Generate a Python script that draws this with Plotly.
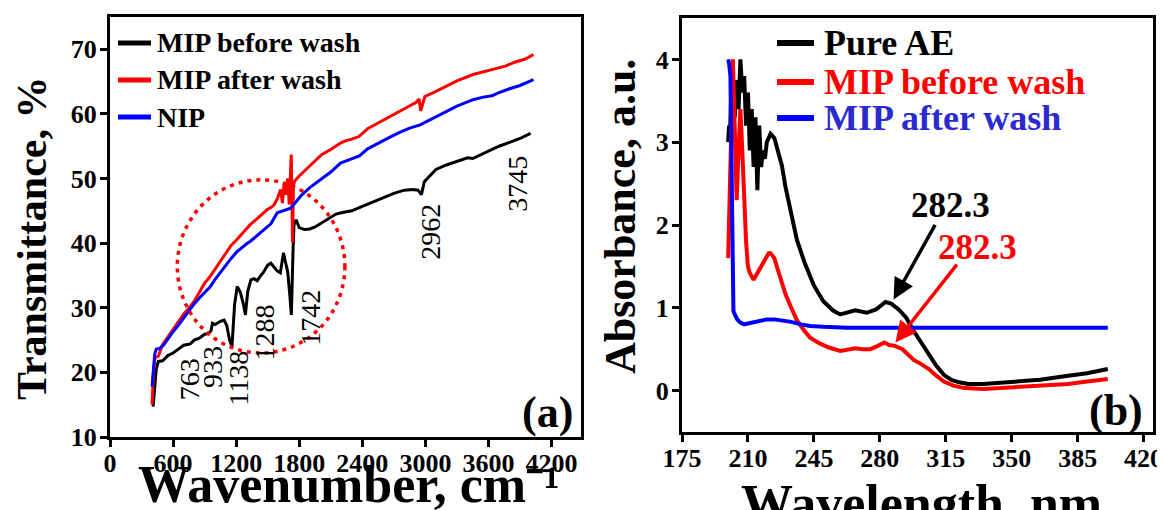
import plotly.graph_objects as go

# ---------------- data: panel (a) FTIR ----------------
wn_before = [410, 420, 440, 460, 500, 550, 600, 650, 700, 763, 800, 850, 900, 933, 960, 975,
             1000, 1050, 1085, 1110, 1138, 1160, 1185, 1210, 1240, 1270, 1288, 1310, 1340, 1370,
             1400, 1430, 1460, 1500, 1530, 1560, 1590, 1620, 1650, 1670, 1690, 1710, 1725, 1742,
             1750, 1770, 1800, 1850, 1900, 1950, 2000, 2050, 2100, 2150, 2200, 2300, 2400, 2500,
             2600, 2700, 2800, 2880, 2930, 2962, 2990, 3050, 3100, 3200, 3300, 3400, 3450, 3500,
             3600, 3700, 3800, 3900, 4000]
t_before = [14.7, 17.0, 20.5, 21.7, 21.8, 22.6, 23.0, 23.6, 24.2, 24.4, 25.0, 25.3, 25.9, 26.0, 26.4, 27.6,
            27.4, 27.9, 28.1, 27.3, 25.0, 24.0, 30.5, 33.3, 32.4, 30.5, 28.9, 32.5, 34.3, 34.5,
            34.2, 34.9, 35.5, 36.6, 36.9, 36.3, 35.7, 35.4, 38.5, 37.0, 35.6, 32.0, 28.9, 39.5,
            42.8, 43.6, 42.4, 42.1, 42.2, 42.5, 43.0, 43.4, 44.0, 44.5, 44.7, 45.0, 45.7, 46.4,
            47.1, 47.7, 48.2, 48.3, 48.2, 47.5, 49.5, 50.6, 51.4, 52.1, 52.7, 53.2, 53.1, 53.5,
            54.2, 55.0, 55.6, 56.2, 57.0]

wn_after = [400, 405, 415, 430, 460, 500, 550, 600, 650, 700, 764, 800, 850, 900, 955, 1000, 1050,
            1100, 1150, 1209, 1250, 1300, 1336, 1400, 1450, 1496, 1530, 1559, 1590, 1623, 1640,
            1655, 1670, 1690, 1705, 1715, 1724, 1730, 1736, 1745, 1757, 1800, 1850, 1900, 1950,
            2012, 2100, 2192, 2250, 2300, 2367, 2450, 2550, 2650, 2750, 2850, 2913, 2940, 2955,
            2970, 2995, 3100, 3200, 3300, 3453, 3550, 3650, 3760, 3850, 3950, 4028]
t_after = [15.0, 17.0, 20.5, 22.3, 22.5, 24.3, 25.5, 26.8, 28.0, 29.0, 30.2, 31.0, 32.4, 33.8, 34.9, 35.9, 37.2,
           38.4, 39.6, 40.6, 41.3, 42.2, 42.9, 43.8, 44.6, 45.2, 45.5, 45.9, 46.8, 48.3, 46.2,
           49.2, 47.5, 50.0, 46.0, 49.5, 53.7, 47.0, 40.1, 49.0, 49.6, 50.4, 51.2, 52.0, 52.8,
           53.7, 54.5, 55.5, 55.9, 56.1, 56.5, 57.7, 58.6, 59.5, 60.4, 61.2, 61.8, 62.3, 60.5,
           61.3, 62.7, 63.5, 64.3, 65.1, 66.1, 66.5, 67.0, 67.4, 68.0, 68.5, 69.2]

wn_nip = [400, 410, 425, 440, 470, 509, 550, 600, 650, 700, 764, 800, 850, 900, 955, 1000, 1050,
          1100, 1150, 1209, 1250, 1300, 1336, 1400, 1450, 1496, 1530, 1591, 1650, 1718, 1760, 1814,
          1900, 2005, 2100, 2192, 2280, 2372, 2450, 2550, 2650, 2750, 2850, 2950, 3020, 3150, 3300,
          3453, 3550, 3633, 3700, 3800, 3900, 4028]
t_nip = [17.8, 20.0, 22.8, 23.6, 23.7, 24.2, 25.2, 26.3, 27.3, 28.4, 30.0, 30.6, 31.5, 32.4, 33.3, 34.4, 35.5,
         36.5, 37.6, 38.7, 39.3, 39.9, 40.3, 41.2, 41.9, 42.6, 43.0, 44.7, 45.0, 45.4, 46.2, 47.3,
         48.6, 49.8, 51.0, 52.4, 52.9, 53.5, 54.6, 55.5, 56.3, 57.1, 57.8, 58.3, 58.9, 60.0, 61.2,
         62.2, 62.6, 62.8, 63.3, 63.9, 64.4, 65.3]

names_a = ["MIP before wash", "MIP after wash", "NIP"]
peak_labels = ["763", "933", "1138", "1288", "1742", "2962", "3745"]

# ---------------- data: panel (b) UV-Vis ----------------
wl_ae = [199.5, 200, 200.5, 201, 202, 203, 204, 205, 206, 207, 208, 209, 210, 211, 212, 213, 214,
         215, 216, 217, 218, 219, 220, 222, 224, 226, 228, 230, 233, 236, 240, 245, 250, 255, 259,
         263, 267, 273, 278, 283, 286, 290, 294, 298, 302, 306, 310, 314, 318, 322, 327, 335, 350,
         365, 380, 390, 401]
a_ae = [3.0, 3.2, 3.1, 3.5, 3.7, 3.3, 3.75, 3.4, 4.0, 3.6, 3.8, 3.2, 3.6, 2.9, 3.4, 2.7, 3.3,
        2.42, 3.2, 2.7, 2.9, 2.8, 3.0, 3.1, 3.05, 2.9, 2.72, 2.45, 2.12, 1.82, 1.55, 1.27, 1.08, 0.97, 0.92,
        0.94, 0.97, 0.94, 0.98, 1.07, 1.05, 0.98, 0.88, 0.72, 0.58, 0.45, 0.30, 0.19, 0.13, 0.10, 0.08, 0.08, 0.10,
        0.13, 0.18, 0.21, 0.26]

wl_mb = [199.5, 200, 201, 202, 203, 204, 205, 206, 207, 208, 209, 210, 211, 213, 215, 217, 219, 221,
         222, 224, 226, 228, 230, 233, 236, 240, 243, 248, 253, 259, 263, 267, 271, 275, 279, 282.4,
         285, 288, 292, 295, 298, 302, 306, 310, 314, 319, 325, 335, 350, 365, 380, 390, 401]
a_mb = [1.6, 2.3, 3.0, 4.0, 3.2, 2.3, 2.9, 3.4, 2.9, 2.3, 1.8, 1.5, 1.42, 1.34, 1.42, 1.52, 1.6, 1.66,
        1.66, 1.6, 1.45, 1.3, 1.16, 1.0, 0.85, 0.72, 0.64, 0.57, 0.52, 0.48, 0.50, 0.51, 0.50, 0.50, 0.54, 0.58,
        0.55, 0.54, 0.50, 0.43, 0.37, 0.32, 0.26, 0.18, 0.11, 0.06, 0.03, 0.02, 0.04, 0.06, 0.08, 0.11, 0.14]

wl_ma = [199.5, 200, 200.7, 201.2, 201.8, 202.3, 203, 204.3, 206, 208, 210, 212, 216, 220, 224, 228,
         233, 238, 243, 250, 263, 280, 300, 330, 360, 380, 401]
a_ma = [4.0, 3.95, 3.8, 2.5, 1.3, 0.96, 0.92, 0.86, 0.82, 0.80, 0.81, 0.82, 0.84, 0.86, 0.86, 0.85,
        0.83, 0.80, 0.78, 0.77, 0.76, 0.76, 0.76, 0.76, 0.76, 0.76, 0.76]

names_b = ["Pure AE", "MIP before wash", "MIP after wash"]
peak_b = "282.3"

# ---------------- figure ----------------
OFF = 8                      # page body margin
W, H = 1157, 502             # figure size so it fits the 1165x510 window
FONT = "Liberation Serif"
BLACK, RED, BLUE = "#000000", "#ff0000", "#0000ff"


def px(x):
    return (x - OFF) / W


def py(y):
    return 1 - (y - OFF) / H


fig = go.Figure()
colors_a = [BLACK, RED, BLUE]
for xs, ys, nm, c in zip([wn_before, wn_after, wn_nip], [t_before, t_after, t_nip], names_a, colors_a):
    fig.add_trace(go.Scatter(x=xs, y=ys, mode="lines", name=nm, line=dict(color=c, width=3),
                             xaxis="x", yaxis="y", showlegend=False))

colors_b = [BLACK, RED, BLUE]
for xs, ys, nm, c in zip([wl_ae, wl_mb, wl_ma], [a_ae, a_mb, a_ma], names_b, colors_b):
    fig.add_trace(go.Scatter(x=xs, y=ys, mode="lines", name=nm, line=dict(color=c, width=4),
                             xaxis="x2", yaxis="y2", showlegend=False))

tickfont = dict(family=FONT, size=26, color="black", weight="bold")
axis_common = dict(showline=True, linewidth=3, linecolor="black", mirror=True, ticks="outside",
                   ticklen=7, tickwidth=3, tickcolor="black", showgrid=False, zeroline=False,
                   tickfont=tickfont, automargin=False)

fig.update_layout(
    width=W, height=H, template="none",
    margin=dict(l=0, r=0, t=0, b=0),
    paper_bgcolor="white", plot_bgcolor="white",
    xaxis=dict(domain=[px(110), px(581)], range=[0, 4480], tickvals=list(range(0, 4201, 600)),
               anchor="y", ticklabelstandoff=-6, **axis_common),
    yaxis=dict(domain=[py(437), py(17)], range=[10, 75], tickvals=list(range(10, 71, 10)),
               anchor="x", ticklabelstandoff=-2, **axis_common),
    xaxis2=dict(domain=[px(682), px(1153)], range=[175, 425], tickvals=list(range(175, 421, 35)),
                anchor="y2", ticklabelstandoff=-6, **axis_common),
    yaxis2=dict(domain=[py(432), py(18)], range=[-0.5, 4.5], tickvals=[0, 1, 2, 3, 4],
                anchor="x2", ticklabelstandoff=-2, **axis_common),
    showlegend=False,
)

ann = []
shapes = []


def txt(text, x, y, size, color="black", bold=True, angle=0, xanchor="center"):
    return dict(text=text, x=px(x), y=py(y), xref="paper", yref="paper", xanchor=xanchor,
                yanchor="middle", textangle=angle, showarrow=False,
                font=dict(family=FONT, size=size, color=color, weight="bold" if bold else "normal"))


# axis titles
ann.append(txt("Transmittance, %", 32, 238, 42, angle=-90))
ann.append(txt("Wavenumber, cm\u207b\u00b9", 349, 484, 52))
ann.append(txt("Absorbance, a.u.", 620, 217, 44, angle=-90))
ann.append(txt("Wavelength, nm", 921, 503, 52))

# panel letters
ann.append(txt("(a)", 547, 412, 44))
ann.append(txt("(b)", 1116, 410, 44))

# manual legends
leg_a_rows = [43, 80, 117]
for nm, c, yy in zip(names_a, colors_a, leg_a_rows):
    shapes.append(dict(type="line", xref="paper", yref="paper", x0=px(118), x1=px(151), y0=py(yy), y1=py(yy),
                       line=dict(color=c, width=5)))
    ann.append(txt(nm, 155, yy, 28, xanchor="left"))

leg_b_rows = [43, 82, 118]
text_colors_b = [BLACK, RED, "#2a2ad0"]
for nm, c, tc, yy in zip(names_b, colors_b, text_colors_b, leg_b_rows):
    shapes.append(dict(type="line", xref="paper", yref="paper", x0=px(777), x1=px(814), y0=py(yy), y1=py(yy),
                       line=dict(color=c, width=6)))
    ann.append(txt(nm, 822, yy, 36, color=tc, xanchor="left"))

# peak labels panel (a)
peak_pos = [(764, 19.0), (974, 20.9), (1222, 19.1), (1470, 26.1), (1900, 28.4), (3045, 41.8), (3876, 49.1)]
for lab, (xx, yy) in zip(peak_labels, peak_pos):
    ann.append(dict(text=lab, x=xx, y=yy, xref="x", yref="y", xanchor="center", yanchor="middle",
                    textangle=-90, showarrow=False, font=dict(family=FONT, size=28, color="black")))

# dotted circle
shapes.append(dict(type="circle", xref="x", yref="y", x0=640, x1=2234, y0=23.0, y1=49.8,
                   line=dict(color=RED, width=3.5, dash="4px,5px")))

# panel (b) labels and arrows
ann.append(txt(peak_b, 950, 205, 35))
ann.append(txt(peak_b, 977, 247, 35, color=RED))
ann.append(dict(text="", x=287.3, y=1.10, ax=309.8, ay=2.02, xref="x2", yref="y2", axref="x2", ayref="y2",
                showarrow=True, arrowhead=2, arrowsize=1.2, arrowwidth=3.5, arrowcolor=BLACK))
ann.append(dict(text="", x=288.3, y=0.58, ax=321.5, ay=1.54, xref="x2", yref="y2", axref="x2", ayref="y2",
                showarrow=True, arrowhead=2, arrowsize=1.2, arrowwidth=3.5, arrowcolor=RED))

fig.update_layout(annotations=ann, shapes=shapes)

fig.write_html("out.html")
